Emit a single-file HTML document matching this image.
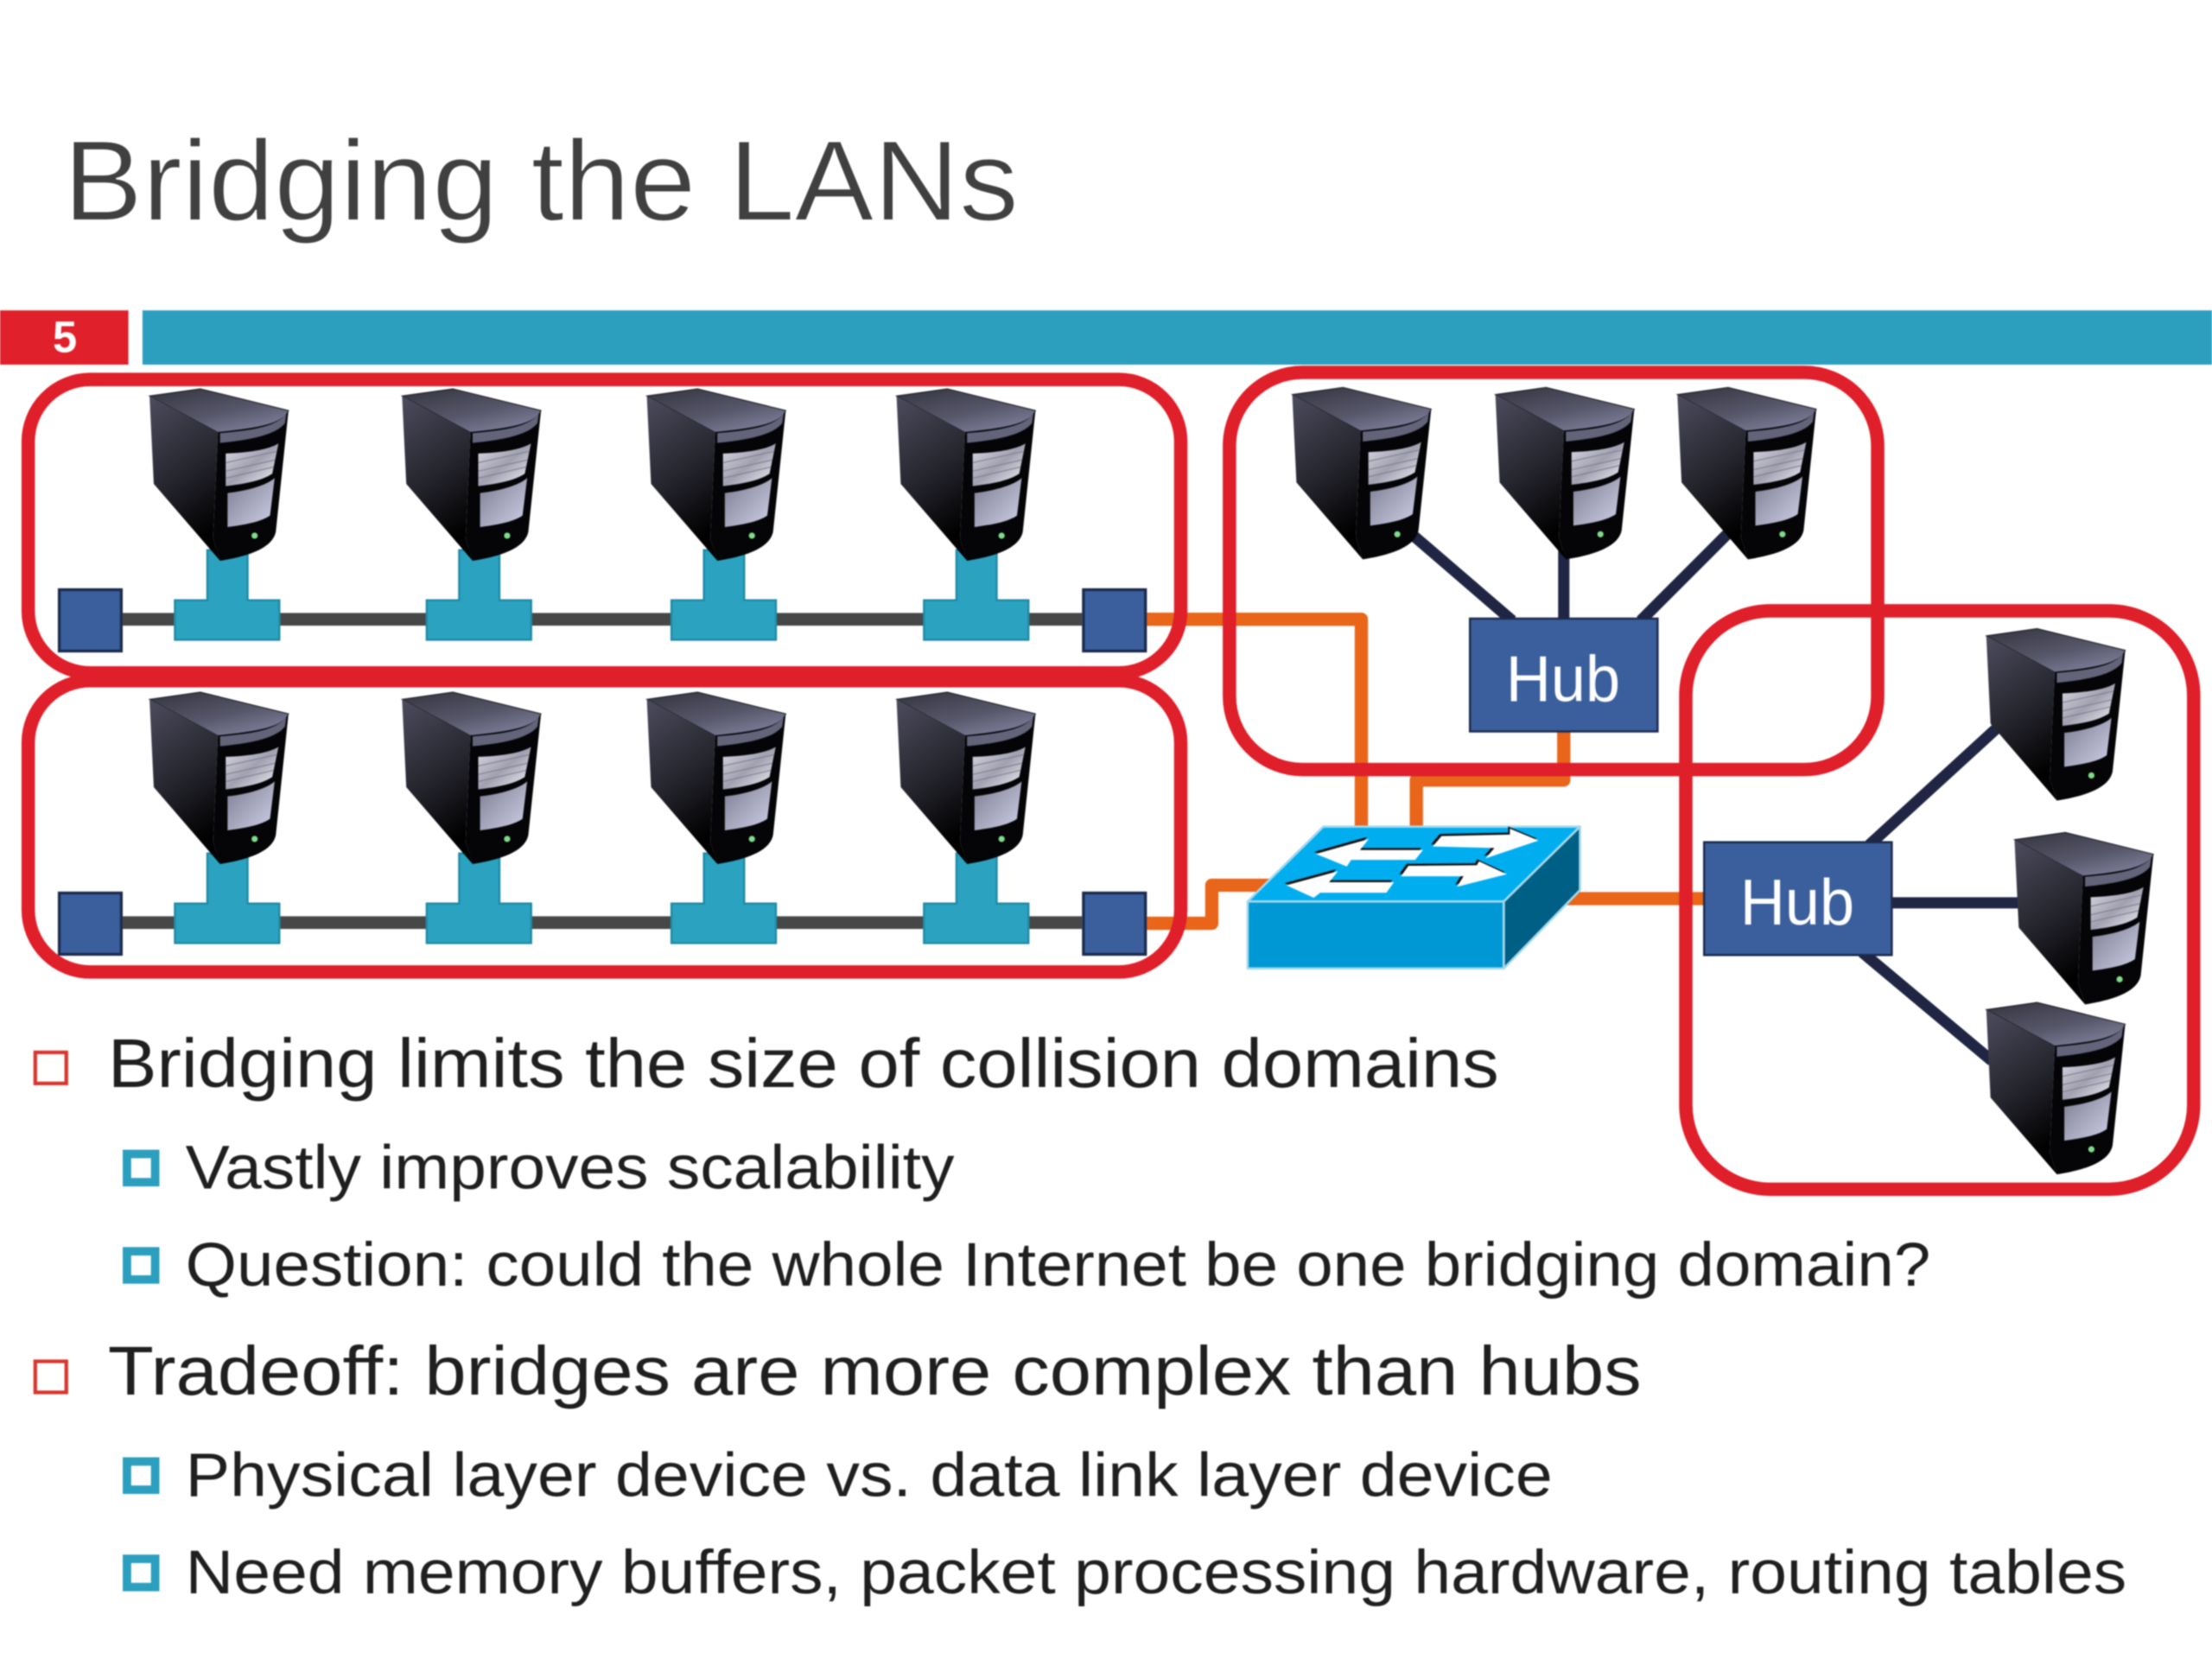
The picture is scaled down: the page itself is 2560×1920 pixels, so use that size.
<!DOCTYPE html>
<html><head><meta charset="utf-8"><title>Bridging the LANs</title>
<style>
html,body{margin:0;padding:0;background:#fff;width:2560px;height:1920px;overflow:hidden}
svg{display:block;filter:blur(.7px)}
text{font-family:"Liberation Sans",sans-serif}
.l1{font-size:49px;fill:#1f1f1f}
.l2{font-size:44px;fill:#1f1f1f}
</style></head><body>
<svg xmlns="http://www.w3.org/2000/svg" width="2560" height="1920" viewBox="0 0 1568 1176">
<defs>
<linearGradient id="gSide" x1="0" y1="0" x2="0.3" y2="1"><stop offset="0" stop-color="#4c4c5e"/><stop offset=".55" stop-color="#26262f"/><stop offset="1" stop-color="#000"/></linearGradient>
<linearGradient id="gTop" x1="0" y1="0" x2="0.7" y2="1"><stop offset="0" stop-color="#34343f"/><stop offset=".6" stop-color="#565669"/><stop offset="1" stop-color="#7c7c98"/></linearGradient>
<linearGradient id="gBay1" x1="0" y1="0" x2="1" y2="1"><stop offset="0" stop-color="#dcdce4"/><stop offset=".5" stop-color="#a0a0b0"/><stop offset="1" stop-color="#f6f6fc"/></linearGradient>
<linearGradient id="gBay2" x1="0" y1="0" x2="1" y2="1"><stop offset="0" stop-color="#7c7c90"/><stop offset="1" stop-color="#cfcfe8"/></linearGradient>
<g id="srv">
<path d="M1,4.7 L37,-.4 L99.5,15 C96,25 75,28 49.5,30.5 Z" fill="url(#gTop)" stroke="#15151c" stroke-width=".6"/>
<path d="M1,4.7 L49.5,30.5 L46,106 L51,121.5 L4,67 Z" fill="url(#gSide)"/>
<path d="M49.5,30.5 C75,28 96,25 99.5,15 L90.5,101 C88,113 70,118.5 51,121.5 L46,106 Z" fill="#050508"/>
<path d="M51,31 C75,29 92,26 98,17 L97,24 C90,33 70,36 51,38 Z" fill="#63637a"/>
<path d="M55,45.5 C70,45 85,43 92.4,38.4 L88,59.8 C80,65 68,67 55,68.6 Z" fill="url(#gBay1)"/>
<path d="M55,52 L91,44 M55,58 L90,50 M55,63 L89,55" stroke="#7a7a8a" stroke-width=".6" fill="none"/>
<path d="M56.3,73.5 C70,72 84,68 89.7,62.9 L86.4,89.4 C80,94 68,96 56.3,97.6 Z" fill="url(#gBay2)"/>
<circle cx="75.5" cy="103.7" r="2.2" fill="#7fdc8a"/>
</g>
<path id="tee" d="M147,390 H175.5 V425.5 H198 V453.5 H124 V425.5 H147 Z" fill="#2ba3c0" stroke="#1f8ba6" stroke-width="1.5"/>
<g id="lan">
<rect x="87" y="434.5" width="680" height="9" fill="#474747"/>
<use href="#tee"/><use href="#tee" x="178.5"/><use href="#tee" x="352"/><use href="#tee" x="531"/>
<rect x="42" y="418" width="44" height="43.5" fill="#3a5f9c" stroke="#1c2a4c" stroke-width="2"/>
<rect x="768" y="418" width="44" height="43.5" fill="#3a5f9c" stroke="#1c2a4c" stroke-width="2"/>
<use href="#srv" x="105" y="276"/><use href="#srv" x="284" y="276"/><use href="#srv" x="457.5" y="276"/><use href="#srv" x="634.5" y="276"/>
</g>
<rect id="bul" width="20" height="20" fill="#fff" stroke="#2c9fbf" stroke-width="6"/>
</defs>
<rect width="1568" height="1176" fill="#fff"/>

<text x="45" y="156" font-size="81" fill="#404040" stroke="#fff" stroke-width=".9" textLength="677" lengthAdjust="spacingAndGlyphs">Bridging the LANs</text>

<rect x="0" y="220" width="91" height="38.5" fill="#e0202a"/>
<rect x="101" y="220" width="1467" height="38.5" fill="#2c9fbf"/>
<text x="46" y="249.5" font-size="31" font-weight="bold" fill="#fff" text-anchor="middle">5</text>

<g fill="none" stroke="#e8651a" stroke-width="9.4" stroke-linejoin="round">
<path d="M813,439 H965 V592"/>
<path d="M1108.5,518 V553 H1004 V592"/>
<path d="M813,654.5 H859 V627.5 H905"/>
<path d="M1105,637 H1208"/>
</g>
<g fill="none" stroke="#1f2542" stroke-width="8">
<path d="M1000,378 L1072,440"/>
<path d="M1108.5,390 V440"/>
<path d="M1225,378 L1163,440"/>
<path d="M1325,599 L1420,512"/>
<path d="M1339,640 H1432"/>
<path d="M1320,675 L1412,752"/>
</g>

<use href="#lan"/>
<use href="#lan" y="215"/>

<g stroke="#1c2a4c" stroke-width="1.5" fill="#3a5f9c">
<rect x="1042" y="438.5" width="133" height="80"/>
<rect x="1208" y="597" width="133" height="80"/>
</g>
<text x="1108" y="497" font-size="46" fill="#fff" text-anchor="middle" textLength="81" lengthAdjust="spacingAndGlyphs">Hub</text>
<text x="1274" y="655.5" font-size="46" fill="#fff" text-anchor="middle" textLength="81" lengthAdjust="spacingAndGlyphs">Hub</text>

<use href="#srv" x="915" y="275"/><use href="#srv" x="1059" y="275"/><use href="#srv" x="1188" y="275"/>
<use href="#srv" x="1407" y="446"/><use href="#srv" x="1427" y="590.5"/><use href="#srv" x="1407" y="711"/>

<g stroke="#a5d8ec" stroke-width="1.6" stroke-linejoin="round">
<path d="M938,586 H1120 L1066,639 H884.4 Z" fill="#00aeef"/>
<rect x="884.4" y="639" width="181.6" height="47.5" fill="#0098d4"/>
<path d="M1066,639 L1120,586 V631 L1066,686.5 Z" fill="#005f85"/>
</g>
<g transform="translate(765.6,392) scale(.3125,.2112)">
<g fill="#111" transform="translate(-4,-7)">
<path d="M800,985 L820,950 L975,945 L975,925 L1040,965 L920,1025 L940,990 Z"/>
<path d="M535,1010 L655,960 L635,997 L778,997 L760,1030 L615,1030 L605,1052 Z"/>
<path d="M728,1085 L745,1050 L900,1048 L905,1035 L968,1078 L855,1120 L870,1085 Z"/>
<path d="M468,1115 L585,1068 L565,1105 L712,1105 L695,1140 L545,1140 L530,1157 Z"/>
</g>
<g fill="#fff">
<path d="M800,985 L820,950 L975,945 L975,925 L1040,965 L920,1025 L940,990 Z"/>
<path d="M535,1010 L655,960 L635,997 L778,997 L760,1030 L615,1030 L605,1052 Z"/>
<path d="M728,1085 L745,1050 L900,1048 L905,1035 L968,1078 L855,1120 L870,1085 Z"/>
<path d="M468,1115 L585,1068 L565,1105 L712,1105 L695,1140 L545,1140 L530,1157 Z"/>
</g>
</g>

<g fill="none" stroke="#df1f2a" stroke-width="9.5">
<rect x="20" y="269" width="817" height="208" rx="44" ry="44"/>
<rect x="20" y="482.5" width="817" height="206.5" rx="44" ry="44"/>
<rect x="871.5" y="264" width="459.5" height="281.5" rx="52" ry="52"/>
<rect x="1195" y="433" width="360" height="410" rx="60" ry="60"/>
</g>

<rect x="25" y="746" width="22" height="22" fill="none" stroke="#d9362e" stroke-width="2.6"/>
<rect x="25" y="965" width="22" height="22" fill="none" stroke="#d9362e" stroke-width="2.6"/>
<use href="#bul" x="90" y="818"/>
<use href="#bul" x="90" y="887"/>
<use href="#bul" x="90" y="1036"/>
<use href="#bul" x="90" y="1105"/>

<text class="l1" x="76.5" y="770.5" textLength="986" lengthAdjust="spacingAndGlyphs">Bridging limits the size of collision domains</text>
<text class="l2" x="131.5" y="842.5" textLength="545" lengthAdjust="spacingAndGlyphs">Vastly improves scalability</text>
<text class="l2" x="131.5" y="911.5" textLength="1237" lengthAdjust="spacingAndGlyphs">Question: could the whole Internet be one bridging domain?</text>
<text class="l1" x="76.5" y="988.5" textLength="1087" lengthAdjust="spacingAndGlyphs">Tradeoff: bridges are more complex than hubs</text>
<text class="l2" x="131.5" y="1060.5" textLength="969" lengthAdjust="spacingAndGlyphs">Physical layer device vs. data link layer device</text>
<text class="l2" x="131.5" y="1129.5" textLength="1376" lengthAdjust="spacingAndGlyphs">Need memory buffers, packet processing hardware, routing tables</text>
</svg>
</body></html>
